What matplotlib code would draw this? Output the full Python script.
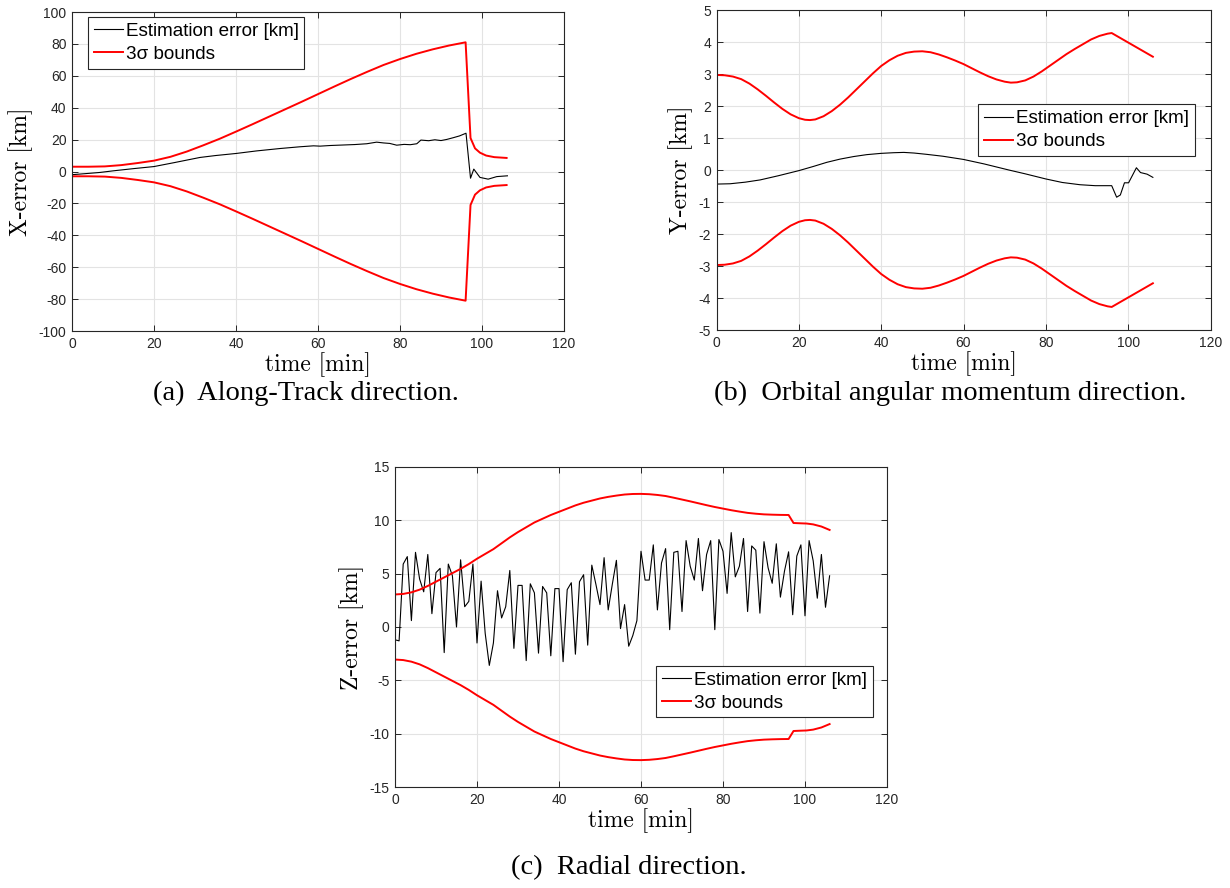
import numpy as np
import matplotlib
matplotlib.use("Agg")
import matplotlib.pyplot as plt

plt.rcParams['axes.unicode_minus'] = False

# ---------------- data ----------------
# (a) Along-track
a_sig_t = [0, 4, 8, 12, 16, 20, 24, 28, 32, 36, 40, 44, 48, 52, 56, 60, 64, 68, 72, 76, 80, 84,
           88, 92, 96, 97.2, 98.3, 99.5, 101, 103, 106]
a_sig_v = [3.0, 3.0, 3.2, 4.0, 5.3, 6.8, 9.2, 12.5, 16.4, 20.5, 25.0, 29.6, 34.3, 39.0, 43.7,
           48.5, 53.3, 58.0, 62.5, 66.8, 70.5, 73.8, 76.6, 79.0, 81.0, 21.0, 14.5, 11.8, 10.0,
           9.0, 8.5]
a_err_t = [0, 3, 6.8, 10, 15, 20, 25, 31.2, 35, 40, 45, 50.7, 55.6, 58.9, 60.5, 63, 66, 69, 71.9,
           74.3, 76, 77.5, 79.2, 81, 82.5, 84.1, 85.1, 87, 88.5, 90, 91.4, 93, 94.5, 96.1, 97.2,
           98, 99.5, 101.5, 103.6, 106.2]
a_err_v = [-2.0, -1.4, -0.6, 0.4, 1.8, 3.1, 5.6, 8.8, 10.0, 11.3, 12.9, 14.4, 15.5, 16.1, 15.9,
           16.3, 16.6, 16.9, 17.4, 18.4, 17.9, 17.6, 16.5, 17.0, 16.8, 17.4, 19.7, 19.3, 19.9,
           19.4, 20.1, 21.2, 22.3, 24.0, -4.2, 1.5, -3.7, -4.8, -3.2, -2.7]

# (b) Orbital angular momentum
b_sig_t = [0, 2, 4, 6, 8, 10, 12, 14, 16, 18, 20, 21.5, 22.7, 24, 26, 28, 30, 32, 34, 36, 38,
           40, 42, 44, 46, 48, 50, 52, 54, 56, 58, 60, 62, 64, 66, 68, 70, 71.5, 73, 75, 77,
           79, 81, 83, 85, 87, 89, 91, 93, 95, 96, 106]
b_sig_v = [2.97, 2.96, 2.92, 2.84, 2.70, 2.52, 2.32, 2.11, 1.91, 1.74, 1.62, 1.57, 1.56, 1.58,
           1.68, 1.84, 2.04, 2.27, 2.52, 2.77, 3.02, 3.25, 3.43, 3.57, 3.66, 3.70, 3.71, 3.68,
           3.61, 3.52, 3.42, 3.31, 3.18, 3.05, 2.93, 2.83, 2.76, 2.73, 2.74, 2.80, 2.92, 3.08,
           3.26, 3.44, 3.62, 3.78, 3.93, 4.08, 4.19, 4.26, 4.28, 3.54]
b_err_t = [0, 3.3, 7, 10.6, 15, 20, 23.5, 26.8, 30, 33.3, 36.5, 40, 43, 45.5, 48, 51, 55, 60,
           65, 71, 75, 80, 84, 88.3, 92, 96, 97.2, 98.1, 99.1, 100.1, 102, 103, 104.6, 106]
b_err_v = [-0.44, -0.43, -0.38, -0.31, -0.18, -0.02, 0.11, 0.24, 0.34, 0.42, 0.48, 0.52, 0.54,
           0.55, 0.53, 0.49, 0.43, 0.33, 0.19, 0.0, -0.12, -0.28, -0.39, -0.46, -0.49, -0.49,
           -0.85, -0.78, -0.4, -0.4, 0.07, -0.08, -0.13, -0.23]

# (c) Radial
c_sig_t = [0, 2, 4, 6, 8, 10, 12, 14, 16, 18, 20, 22, 24, 26, 28, 30, 32, 34, 36, 38, 40, 42,
           44, 46, 48, 50, 52, 54, 56, 58, 60, 62, 64, 66, 68, 70, 72, 74, 76, 78, 80, 82, 84,
           86, 88, 90, 92, 94, 96, 97.2, 99, 100.4, 102, 104, 106]
c_sig_v = [3.05, 3.1, 3.25, 3.5, 3.85, 4.25, 4.65, 5.05, 5.45, 5.9, 6.4, 6.85, 7.3, 7.85, 8.4,
           8.9, 9.35, 9.8, 10.15, 10.5, 10.8, 11.1, 11.4, 11.65, 11.85, 12.05, 12.2, 12.32,
           12.42, 12.47, 12.48, 12.45, 12.38, 12.28, 12.12, 11.95, 11.78, 11.6, 11.42, 11.25,
           11.1, 10.95, 10.82, 10.7, 10.62, 10.56, 10.53, 10.51, 10.5, 9.75, 9.72, 9.7, 9.62,
           9.42, 9.1]
c_err_t = list(range(0, 107))
c_err_v = [-1.2, -1.3, 5.9, 6.6, 0.6, 7.0, 4.5, 3.3, 6.8, 1.25,
           5.1, 5.5, -2.4, 5.9, 4.8, 0.0, 6.3, 1.9, 2.4, 5.9,
           -1.5, 4.3, -0.6, -3.6, -1.5, 3.4, 0.85, 1.9, 5.3, -2.0,
           3.9, 3.9, -3.15, 4.05, 3.2, -2.45, 3.8, 3.2, -2.7, 3.6,
           3.6, -3.25, 3.5, 4.15, -2.55, 4.25, 4.9, -1.7, 5.8, 4.0,
           2.1, 6.5, 1.6, 4.0, 6.25, -0.15, 2.1, -1.8, -0.8, 0.6,
           7.1, 4.4, 4.4, 7.7, 1.6, 6.0, 7.35, -0.25, 7.0, 7.1,
           1.45, 8.1, 5.7, 4.4, 8.3, 3.4, 6.8, 8.1, -0.25, 8.2,
           7.1, 3.15, 8.85, 4.7, 5.7, 8.3, 1.45, 7.6, 7.2, 1.3,
           8.0, 5.55, 4.1, 7.8, 2.8, 5.25, 7.05, 1.15, 6.65, 7.7,
           1.05, 8.1, 6.2, 2.7, 6.8, 1.85, 4.8]

x_ticks = [0, 20, 40, 60, 80, 100, 120]
a_yticks = list(range(-100, 101, 20))
b_yticks = list(range(-5, 6, 1))
c_yticks = list(range(-15, 16, 5))

legend_labels = ['Estimation error [km]', '3σ bounds']
captions = ['(a)  Along-Track direction.', '(b)  Orbital angular momentum direction.',
            '(c)  Radial direction.']

# ---------------- figure ----------------
W, H = 1230, 888
fig = plt.figure(figsize=(W / 100, H / 100), dpi=100)

def px_axes(left, top, right, bottom):
    return fig.add_axes([left / W, 1 - bottom / H, (right - left) / W, (bottom - top) / H])

AX_COL = '#262626'
TICK_FONT = 'Liberation Sans'
LBL_FONT = 'cmr10'

def style(ax, yticks, ylabel, leg_anchor):
    ax.set_xlim(0, 120)
    ax.set_ylim(yticks[0], yticks[-1])
    ax.set_xticks(x_ticks)
    ax.set_yticks(yticks)
    ax.grid(True, color='#e3e3e3', linewidth=0.8)
    ax.set_axisbelow(True)
    ax.tick_params(direction='in', length=4.5, width=0.7, top=True, right=True,
                   colors=AX_COL, labelsize=10, pad=4)
    for lab in ax.get_xticklabels() + ax.get_yticklabels():
        lab.set_fontfamily(TICK_FONT)
    for s in ax.spines.values():
        s.set_color(AX_COL)
        s.set_linewidth(0.8)
    ax.set_xlabel('time [min]', fontfamily=LBL_FONT, fontsize=17, labelpad=1)
    ax.set_ylabel(ylabel, fontfamily=LBL_FONT, fontsize=17, labelpad=4)
    leg = ax.legend(legend_labels, loc='upper left', bbox_to_anchor=leg_anchor,
                    borderaxespad=0, fancybox=False, framealpha=1, edgecolor=AX_COL,
                    prop={'family': TICK_FONT, 'size': 13.6}, handlelength=1.55,
                    handletextpad=0.15, borderpad=0.3, labelspacing=0.3)
    leg.get_frame().set_linewidth(0.8)

# (a)
ax1 = px_axes(72, 12, 564, 331)
ax1.plot(a_err_t, a_err_v, color='black', lw=0.8)
ax1.plot(a_sig_t, a_sig_v, color='red', lw=1.4)
ax1.plot(a_sig_t, [-v for v in a_sig_v], color='red', lw=1.4)
style(ax1, a_yticks, 'X-error [km]', (0.0325, 0.984))

# (b)
ax2 = px_axes(716.5, 10, 1210.5, 330)
ax2.plot(b_err_t, b_err_v, color='black', lw=0.8)
ax2.plot(b_sig_t, b_sig_v, color='red', lw=1.4)
ax2.plot(b_sig_t, [-v for v in b_sig_v], color='red', lw=1.4)
style(ax2, b_yticks, 'Y-error [km]', (0.53, 0.705))

# (c)
ax3 = px_axes(395, 467, 887, 787)
ax3.plot(c_err_t, c_err_v, color='black', lw=0.8)
ax3.plot(c_sig_t, c_sig_v, color='red', lw=1.4)
ax3.plot(c_sig_t, [-v for v in c_sig_v], color='red', lw=1.4)
style(ax3, c_yticks, 'Z-error [km]', (0.531, 0.378))

# captions
fig.text(306 / W, 1 - 393 / H, captions[0], ha='center', va='center',
         fontfamily='Liberation Serif', fontsize=20.5)
fig.text(950 / W, 1 - 393 / H, captions[1], ha='center', va='center',
         fontfamily='Liberation Serif', fontsize=20.5)
fig.text(629 / W, 1 - 868 / H, captions[2], ha='center', va='center',
         fontfamily='Liberation Serif', fontsize=20.5)

fig.savefig('out.png', dpi=100)
